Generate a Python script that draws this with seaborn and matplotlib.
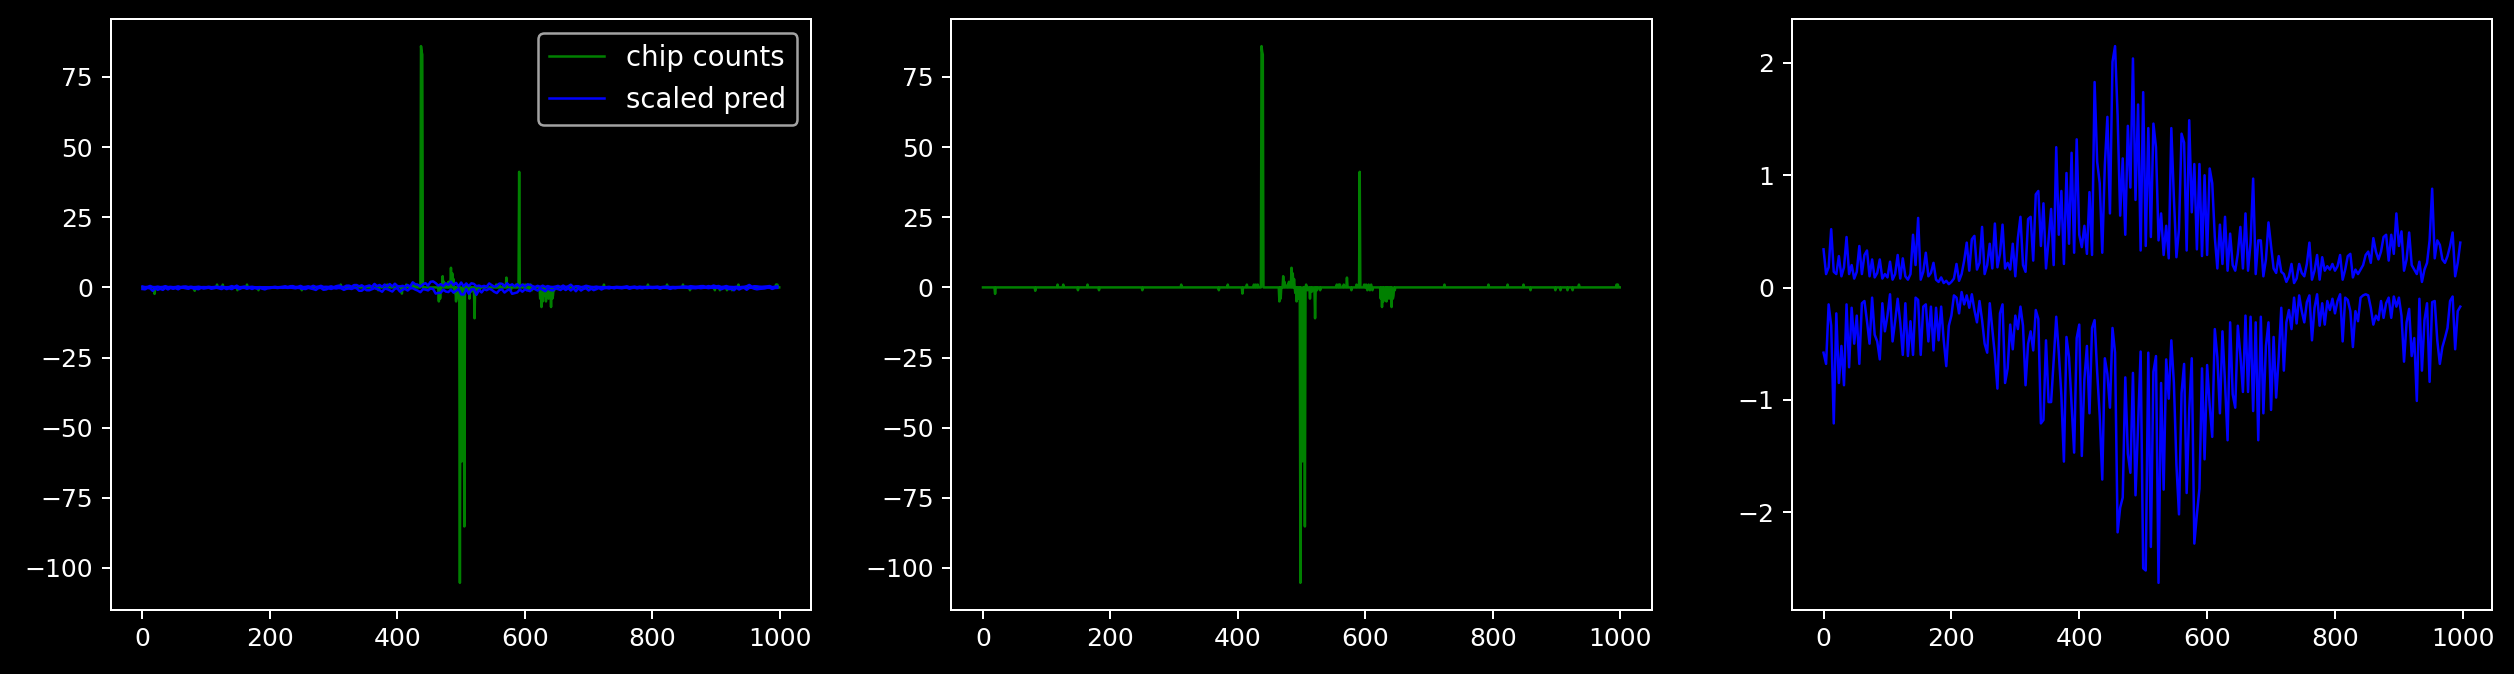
import numpy as np
import pandas as pd
import matplotlib
matplotlib.use("Agg")
import matplotlib.pyplot as plt
import seaborn as sns

plt.style.use("dark_background")

# chip counts: zero baseline with a few non-zero samples (index, value)
n_samples = 1000
chip_idx = [19, 82, 117, 126, 149, 164, 182, 250, 311, 370, 384, 407, 414, 425, 428, 431,
            437, 438, 439, 465, 467, 471, 473, 478, 480, 484, 486, 488, 490, 492, 494, 496,
            498, 500, 501, 503, 505, 507, 509, 513, 516, 521, 524, 529, 555, 558, 560, 566,
            571, 578, 586, 591, 598, 601, 603, 605, 607, 609, 611, 624, 626, 628, 631, 633,
            635, 637, 639, 641, 643, 644, 646, 724, 793, 823, 848, 859, 898, 906, 917, 925,
            935, 994, 996]
chip_val = [-2.3, -1.2, 1.0, 1.0, -1.0, 1.0, -1.0, -1.0, 1.0, -1.0, 1.0, -2.2, 1.0, 1.0, 1.0, 1.0,
            86.0, 84.0, 83.0, -5.0, -4.0, 4.0, 2.0, 1.0, 2.0, 7.0, 5.0, 3.0, -2.0, -5.0, -3.0, -4.0,
            -105.3, -3.0, -62.0, -2.0, -85.2, 1.0, -1.0, -4.0, -1.5, -11.0, -1.0, -1.0, 1.0, 1.0, 1.0, 1.0,
            3.5, -1.0, 1.0, 41.2, 1.0, 1.0, -1.0, 1.0, -1.0, 1.0, -1.0, -4.0, -7.0, -5.0, -3.0, -5.0,
            -2.0, -4.0, -2.0, -7.0, -4.0, -3.0, -1.0, 1.0, 1.0, 1.0, 1.0, -1.0, -1.0, -1.0, -1.0, -1.0,
            1.0, 1.0, 1.0]

# scaled prediction, sampled every 4th index
pred_step = 4
pred_upper = [
    0.34, 0.12, 0.18, 0.52, 0.14, 0.12, 0.28, 0.10, 0.18, 0.45, 0.12, 0.20, 0.08, 0.14, 0.37, 0.12, 0.29, 0.33, 0.10, 0.25, 0.09, 0.13, 0.25, 0.08, 0.12,
    0.09, 0.23, 0.07, 0.12, 0.29, 0.08, 0.26, 0.10, 0.07, 0.12, 0.47, 0.20, 0.62, 0.07, 0.14, 0.31, 0.10, 0.13, 0.22, 0.07, 0.05, 0.09, 0.04, 0.06, 0.03,
    0.05, 0.08, 0.21, 0.06, 0.12, 0.24, 0.40, 0.15, 0.43, 0.46, 0.16, 0.22, 0.54, 0.12, 0.20, 0.39, 0.17, 0.57, 0.18, 0.30, 0.56, 0.17, 0.22, 0.16, 0.39,
    0.10, 0.44, 0.63, 0.20, 0.14, 0.61, 0.63, 0.24, 0.83, 0.86, 0.37, 0.75, 0.17, 0.42, 0.70, 0.20, 1.25, 0.47, 0.86, 0.21, 1.02, 0.39, 1.20, 0.31, 1.32,
    0.47, 0.36, 0.55, 0.30, 0.85, 0.29, 1.83, 1.12, 0.93, 0.31, 1.09, 1.52, 0.66, 2.01, 2.15, 1.53, 0.64, 1.15, 0.47, 1.44, 0.89, 2.04, 0.78, 1.63, 0.33,
    1.74, 0.37, 1.42, 0.45, 1.46, 1.25, 0.42, 0.66, 0.29, 0.55, 0.26, 1.42, 0.80, 0.27, 0.52, 1.37, 1.29, 0.33, 1.49, 0.67, 1.10, 0.34, 1.10, 0.28, 1.00,
    0.29, 1.06, 0.93, 0.45, 0.17, 0.56, 0.21, 0.63, 0.15, 0.48, 0.20, 0.15, 0.30, 0.54, 0.17, 0.66, 0.15, 0.40, 0.97, 0.12, 0.42, 0.42, 0.10, 0.25, 0.58,
    0.37, 0.17, 0.13, 0.28, 0.14, 0.12, 0.05, 0.10, 0.21, 0.04, 0.08, 0.21, 0.13, 0.10, 0.21, 0.40, 0.07, 0.15, 0.29, 0.07, 0.27, 0.15, 0.19, 0.16, 0.21,
    0.15, 0.19, 0.29, 0.07, 0.16, 0.28, 0.30, 0.09, 0.16, 0.12, 0.16, 0.20, 0.29, 0.32, 0.22, 0.44, 0.32, 0.25, 0.32, 0.45, 0.47, 0.24, 0.47, 0.30, 0.66,
    0.37, 0.50, 0.15, 0.25, 0.49, 0.20, 0.16, 0.12, 0.23, 0.05, 0.16, 0.22, 0.42, 0.88, 0.26, 0.42, 0.38, 0.25, 0.22, 0.28, 0.37, 0.49, 0.10, 0.22, 0.40,
]
pred_lower = [
    -0.58, -0.68, -0.15, -0.34, -1.21, -0.23, -0.85, -0.52, -0.87, -0.15, -0.71, -0.18, -0.50, -0.25, -0.68, -0.14, -0.12, -0.30, -0.50, -0.09, -0.42, -0.48, -0.64, -0.14, -0.39,
    -0.25, -0.06, -0.48, -0.30, -0.10, -0.31, -0.60, -0.14, -0.61, -0.30, -0.60, -0.09, -0.11, -0.60, -0.17, -0.15, -0.48, -0.17, -0.56, -0.18, -0.47, -0.17, -0.47, -0.70, -0.34,
    -0.25, -0.07, -0.09, -0.23, -0.04, -0.15, -0.07, -0.18, -0.06, -0.20, -0.31, -0.12, -0.29, -0.50, -0.58, -0.14, -0.37, -0.60, -0.90, -0.23, -0.15, -0.85, -0.72, -0.33, -0.55,
    -0.25, -0.37, -0.17, -0.34, -0.87, -0.50, -0.39, -0.56, -0.20, -0.28, -1.21, -1.18, -0.47, -1.02, -1.02, -0.65, -0.26, -0.58, -0.96, -1.55, -0.44, -0.62, -1.05, -1.47, -0.45,
    -0.33, -1.50, -0.82, -0.52, -1.12, -0.36, -0.29, -0.75, -1.14, -1.71, -0.63, -0.77, -1.07, -0.36, -0.58, -2.18, -1.96, -1.87, -0.80, -1.48, -1.65, -0.76, -1.85, -1.23, -0.57,
    -2.50, -2.52, -0.58, -2.31, -0.75, -0.61, -2.63, -0.85, -1.80, -0.64, -0.99, -0.47, -0.85, -1.58, -2.02, -0.94, -0.68, -1.83, -1.09, -0.63, -2.28, -2.02, -1.79, -0.72, -1.53,
    -0.69, -1.05, -1.33, -0.37, -0.62, -1.12, -0.39, -0.85, -1.36, -0.31, -0.95, -1.07, -0.34, -0.60, -0.93, -0.25, -0.93, -0.26, -1.10, -0.31, -1.36, -0.26, -1.12, -0.52, -0.31,
    -1.09, -0.44, -0.98, -0.62, -0.18, -0.74, -0.31, -0.20, -0.37, -0.09, -0.32, -0.07, -0.21, -0.31, -0.13, -0.07, -0.47, -0.18, -0.06, -0.34, -0.14, -0.33, -0.12, -0.20, -0.10,
    -0.23, -0.12, -0.06, -0.48, -0.09, -0.11, -0.21, -0.53, -0.21, -0.30, -0.09, -0.07, -0.06, -0.07, -0.18, -0.33, -0.25, -0.29, -0.12, -0.27, -0.14, -0.09, -0.27, -0.08, -0.17,
    -0.09, -0.25, -0.66, -0.31, -0.19, -0.61, -0.45, -1.01, -0.10, -0.74, -0.29, -0.14, -0.84, -0.13, -0.12, -0.47, -0.68, -0.53, -0.45, -0.36, -0.12, -0.08, -0.55, -0.21, -0.17,
]

chips = np.zeros(n_samples)
chips[chip_idx] = chip_val
df_chip = pd.DataFrame({"x": np.arange(n_samples), "counts": chips})
df_pred = pd.DataFrame({"x": np.arange(0, n_samples, pred_step),
                        "upper": pred_upper, "lower": pred_lower})

fig, axes = plt.subplots(1, 3, figsize=(2514 / 180, 674 / 180), dpi=180)
fig.subplots_adjust(left=0.044, right=0.9913, bottom=0.0954, top=0.9714, wspace=0.2)

lw = 1.0
# combined view
sns.lineplot(data=df_chip, x="x", y="counts", ax=axes[0], color="green", lw=lw,
             label="chip counts", estimator=None)
sns.lineplot(data=df_pred, x="x", y="upper", ax=axes[0], color="blue", lw=lw,
             label="scaled pred", estimator=None)
sns.lineplot(data=df_pred, x="x", y="lower", ax=axes[0], color="blue", lw=lw, estimator=None)
axes[0].legend(loc="upper right", fontsize=11)

# chip counts only
sns.lineplot(data=df_chip, x="x", y="counts", ax=axes[1], color="green", lw=lw, estimator=None)

# prediction only
sns.lineplot(data=df_pred, x="x", y="upper", ax=axes[2], color="blue", lw=lw, estimator=None)
sns.lineplot(data=df_pred, x="x", y="lower", ax=axes[2], color="blue", lw=lw, estimator=None)

for ax in axes:
    ax.set_xlabel("")
    ax.set_ylabel("")
    ax.set_xticks([0, 200, 400, 600, 800, 1000])

fig.savefig("out.png", dpi=180, facecolor="black")
